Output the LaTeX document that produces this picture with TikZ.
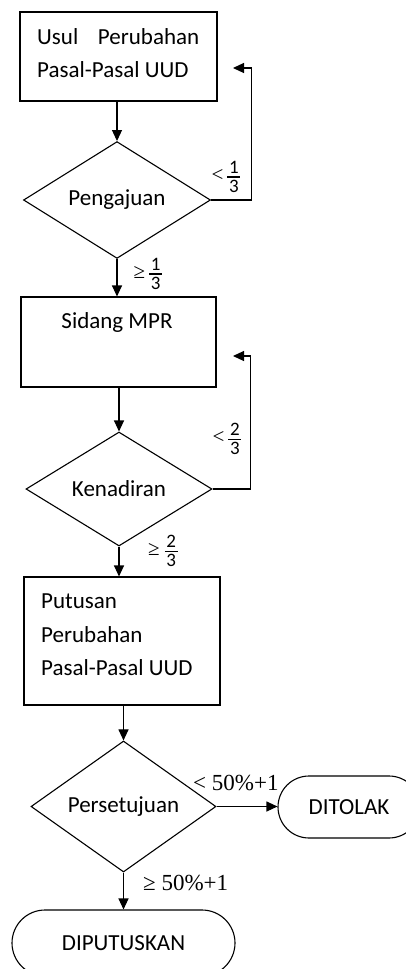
\documentclass[tikz,border=0pt]{standalone}
\usepackage{fontspec}
\setmainfont{Carlito}
\newfontfamily\serifnum{Liberation Serif}
\usetikzlibrary{arrows.meta,shapes.geometric}

% stacked ratio with sans digits and a heavy bar
\newcommand\ratio[2]{$\vcenter{\hbox to 13pt{\hfil#1\hfil}\kern3pt\hrule height 1.8pt\kern2pt\hbox to 13pt{\hfil#2\hfil}}$}
% relation sign set beside a ratio
\newcommand\rel[1]{{\serifnum\fontsize{21}{24}\selectfont #1}}

\tikzset{
  x=1pt, y=-1pt,
  lw/.style={line width=1.1pt},
  arr/.style={lw, -{Triangle[length=11pt,width=10pt]}},
  box/.style={draw, lw, rectangle, inner sep=0pt},
  dec/.style={draw, lw, diamond, inner sep=0pt, font=\fontsize{23}{28}\selectfont},
  term/.style={draw, lw, rectangle, inner sep=0pt, font=\fontsize{23}{28}\selectfont},
  txt/.style={font=\fontsize{23}{28}\selectfont, anchor=base west, inner sep=0pt},
  cond/.style={font=\fontsize{19}{21}\selectfont, inner sep=0pt},
  pct/.style={font=\serifnum\fontsize{23}{28}\selectfont, anchor=base west, inner sep=0pt},
}

\begin{document}
\begin{tikzpicture}
\useasboundingbox (0,0) rectangle (406,969);

% process boxes
\node[box, minimum width=197pt, minimum height=89pt] (b1) at (118.5,56.5) {};
\node[txt] (t1a) at (37,44) {\makebox[162pt][s]{Usul\hfill Perubahan}};
\node[txt] (t1b) at (37,77) {Pasal-Pasal UUD};

\node[box, minimum width=195pt, minimum height=90pt] (b2) at (118.5,342) {};
\node[txt, anchor=base] (t2) at (117,328) {Sidang MPR};

\node[box, minimum width=196pt, minimum height=128pt] (b3) at (122,641) {};
\node[txt] (t3a) at (41,608) {Putusan};
\node[txt] (t3b) at (41,642) {Perubahan};
\node[txt] (t3c) at (41,675) {Pasal-Pasal UUD};

% decisions
\node[dec, minimum width=187pt, minimum height=114pt] (d1) at (117,200) {Pengajuan};
\node[dec, minimum width=186pt, minimum height=114pt] (d2) at (119,489) {Kenadiran};
\node[dec, minimum width=185pt, minimum height=115pt] (d3) at (123.5,806.5) {Persetujuan};

% terminals
\node[term, rounded corners=31pt, minimum width=142pt, minimum height=62pt] (dt) at (349,807) {DITOLAK};
\node[term, rounded corners=33pt, minimum width=223pt, minimum height=66pt] (dp) at (123.5,943) {DIPUTUSKAN};

% return points of the loops
\coordinate (r1) at (233,68);
\coordinate (r2) at (233,356);

% connectors
\draw[arr] (b1.south -| d1.north) -- (d1.north);
\draw[arr] (d1.east) -- ++(40,0) |- (r1);
\draw[arr] (d1.south) -- (d1.south |- b2.north);
\draw[arr] (b2.south -| d2.north) -- (d2.north);
\draw[arr] (d2.east) -- ++(38,0) |- (r2);
\draw[arr] (d2.south) -- (d2.south |- b3.north);
\draw[arr] (b3.south -| d3.north) -- (d3.north);
\draw[arr] (d3.east) -- (d3.east -| dt.west);
\draw[arr] (d3.south) -- (d3.south |- dp.north);

% branch conditions
\node[cond] (c1) at (226,177) {\rel{<}\kern4pt\ratio{1}{3}};
\node[cond] (c2) at (148,274) {\rel{≥}\kern4pt\ratio{1}{3}};
\node[cond] (c3) at (227,439) {\rel{<}\kern4pt\ratio{2}{3}};
\node[cond] (c4) at (163,551) {\rel{≥}\kern5pt\ratio{2}{3}};
\node[pct] (c5) at (193,790) {< 50\%+1};
\node[pct] (c6) at (143,890) {≥ 50\%+1};
\end{tikzpicture}
\end{document}
